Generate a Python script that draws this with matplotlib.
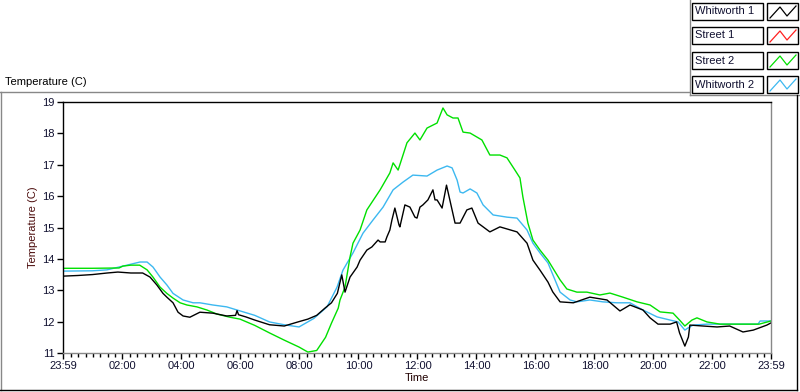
import matplotlib
matplotlib.use("Agg")
import matplotlib.pyplot as plt
from matplotlib.lines import Line2D
from matplotlib.patches import Rectangle

# ---------------- data (hours since 23:59, temperature in C) ----------------
t_w1 = [0, 0.5, 1.0, 1.5, 1.86, 2.3, 2.7, 2.95, 3.18, 3.39, 3.52, 3.73, 3.9, 4.07, 4.3, 4.64,
        5.08, 5.55, 5.85, 5.9, 5.95, 6.2, 6.5, 7.0, 7.5, 8.0, 8.3, 8.6, 8.88, 9.1, 9.3, 9.45,
        9.56, 9.73, 9.97, 10.07, 10.3, 10.47, 10.68, 10.75, 10.92, 10.98, 11.08, 11.15, 11.25,
        11.39, 11.42, 11.59, 11.76, 11.93, 12.0, 12.1, 12.2, 12.37, 12.54, 12.61,
        12.68, 12.85, 13.0, 13.29, 13.46, 13.69, 13.86, 14.07, 14.47, 14.81, 15.39, 15.73,
        15.93, 16.17, 16.44, 16.6, 16.85, 17.3, 17.86, 18.44, 18.88, 19.22, 19.66, 19.9, 20.17,
        20.58, 20.8, 20.9, 21.08, 21.2, 21.25, 21.7, 22.17, 22.6, 23.05, 23.4, 23.86, 24.0]
v_w1 = [13.45, 13.47, 13.5, 13.55, 13.58, 13.55, 13.55, 13.42, 13.17, 12.9, 12.78, 12.6, 12.3,
        12.18, 12.14, 12.3, 12.27, 12.18, 12.2, 12.35, 12.22, 12.15, 12.05, 11.9, 11.86, 12.0,
        12.08, 12.2, 12.43, 12.6, 12.9, 13.49, 12.94, 13.42, 13.74, 13.96, 14.28, 14.38, 14.6,
        14.54, 14.54, 14.7, 14.92, 15.24, 15.62, 15.08, 15.02, 15.72, 15.65, 15.33, 15.3,
        15.65, 15.72, 15.88, 16.2, 15.88, 15.88, 15.62, 16.35, 15.14, 15.14, 15.56,
        15.62, 15.14, 14.86, 15.02, 14.86, 14.5, 13.96, 13.64, 13.26, 12.95, 12.63, 12.6, 12.78,
        12.69, 12.34, 12.53, 12.37, 12.12, 11.92, 11.92, 11.99, 11.64, 11.22, 11.51, 11.89,
        11.86, 11.83, 11.86, 11.67, 11.73, 11.89, 11.96]

t_s1 = []
v_s1 = []

t_s2 = [0, 1.0, 1.9, 2.03, 2.3, 2.6, 2.85, 3.05, 3.29, 3.52, 3.73, 3.97, 4.2, 4.54, 4.88, 5.22,
        5.66, 6.0, 6.5, 7.0, 7.5, 8.0, 8.3, 8.6, 8.9, 9.1, 9.33, 9.39, 9.56, 9.73, 9.83, 10.07,
        10.3, 10.75, 11.08, 11.19, 11.36, 11.66, 11.93, 12.1, 12.34, 12.68, 12.88, 13.02,
        13.22, 13.39, 13.56, 13.8, 14.2, 14.47, 14.81, 15.05, 15.32, 15.49, 15.59, 15.76,
        15.93, 16.17, 16.44, 16.85, 17.08, 17.42, 17.76, 18.2, 18.54, 18.98, 19.46, 19.9,
        20.24, 20.68, 20.9, 21.08, 21.32, 21.49, 21.83, 22.27, 23.0, 23.6, 24.0]
v_s2 = [13.7, 13.7, 13.71, 13.77, 13.8, 13.8, 13.65, 13.42, 13.1, 12.9, 12.75, 12.6, 12.53,
        12.47, 12.37, 12.24, 12.14, 12.08, 11.88, 11.64, 11.41, 11.19, 11.03, 11.08, 11.5,
        11.95, 12.43, 12.69, 13.1, 14.06, 14.5, 14.92, 15.56, 16.2, 16.74, 17.06, 16.83, 17.7,
        18.01, 17.79, 18.17, 18.33, 18.81, 18.59, 18.49, 18.49, 18.04, 18.01, 17.79, 17.31,
        17.31, 17.22, 16.83, 16.58, 15.97, 15.14, 14.6, 14.28, 13.96, 13.33, 13.04, 12.94,
        12.94, 12.85, 12.91, 12.78, 12.63, 12.53, 12.31, 12.27, 12.05, 11.86, 12.05, 12.12,
        11.99, 11.92, 11.92, 11.92, 12.02]

t_w2 = [0, 1.0, 1.49, 2.17, 2.61, 2.85, 3.05, 3.29, 3.52, 3.73, 4.07, 4.41, 4.64, 5.08, 5.55,
        5.9, 6.5, 7.0, 7.5, 8.0, 8.5, 8.95, 9.29, 9.49, 9.83, 10.17, 10.51, 10.85, 11.19,
        11.53, 11.86, 12.34, 12.68, 13.02, 13.19, 13.36, 13.46, 13.56, 13.8, 14.03, 14.24,
        14.58, 15.05, 15.39, 15.73, 15.93, 16.17, 16.44, 16.85, 17.19, 17.42, 17.86, 18.3,
        18.78, 19.22, 19.66, 20.14, 20.58, 20.85, 21.08, 21.19, 21.36, 21.83, 23.56, 23.63, 24.0]
v_w2 = [13.61, 13.62, 13.65, 13.8, 13.9, 13.9, 13.74, 13.42, 13.17, 12.9, 12.69, 12.6, 12.6,
        12.53, 12.47, 12.37, 12.2, 11.99, 11.9, 11.83, 12.1, 12.47, 13.1, 13.64, 14.19, 14.82,
        15.24, 15.65, 16.2, 16.45, 16.67, 16.64, 16.83, 16.96, 16.9, 16.51, 16.13, 16.1, 16.23,
        16.1, 15.72, 15.4, 15.33, 15.3, 14.92, 14.5, 14.19, 13.87, 12.94, 12.69, 12.63, 12.69,
        12.63, 12.6, 12.6, 12.37, 12.15, 12.05, 11.99, 11.73, 11.8, 11.89, 11.92, 11.92, 12.02,
        12.02]

series_names = ["Whitworth 1", "Street 1", "Street 2", "Whitworth 2"]
series_colors = ["#000000", "#ff2020", "#00e000", "#3cb8f0"]

x_tick_pos = [0, 2 + 1/60, 4 + 1/60, 6 + 1/60, 8 + 1/60, 10 + 1/60, 12 + 1/60, 14 + 1/60,
              16 + 1/60, 18 + 1/60, 20 + 1/60, 22 + 1/60, 24]
x_tick_labels = ["23:59", "02:00", "04:00", "06:00", "08:00", "10:00", "12:00", "14:00",
                 "16:00", "18:00", "20:00", "22:00", "23:59"]
y_ticks = [11, 12, 13, 14, 15, 16, 17, 18, 19]

# ---------------- figure ----------------
W, H = 800, 392
plt.rcParams['font.family'] = ['Liberation Sans', 'DejaVu Sans']
fig = plt.figure(figsize=(W / 100, H / 100), dpi=100)
fig.patch.set_facecolor("white")

def fx(px):
    return px / W

def fy(py):
    return 1 - py / H

ax = fig.add_axes([fx(63), fy(353), (771 - 63) / W, (353 - 102) / H])
txtc = "#101030"
ax.plot(t_w2, v_w2, color=series_colors[3], lw=1.0)
ax.plot(t_s2, v_s2, color=series_colors[2], lw=1.0)
ax.plot(t_s1, v_s1, color=series_colors[1], lw=1.0)
ax.plot(t_w1, v_w1, color=series_colors[0], lw=1.0)

ax.set_xlim(0, 24)
ax.set_ylim(11, 19)
ax.set_xticks(x_tick_pos)
ax.set_xticklabels(x_tick_labels)
ax.set_xticks([k / 4 + 1/60 for k in range(1, 96) if k % 8 != 0], minor=True)
ax.set_yticks(y_ticks)
ax.tick_params(axis="both", which="major", direction="out", length=4, width=1,
               labelsize=8, colors="black", labelcolor=txtc, pad=2)
ax.tick_params(axis="x", which="minor", direction="out", length=3, width=1, colors="black")
for side, col in [("left", "black"), ("top", "black"), ("right", "#888888"), ("bottom", "#888888")]:
    ax.spines[side].set_color(col)
    ax.spines[side].set_linewidth(1.0)
ax.set_xlabel("Time", fontsize=8, color="#200000", labelpad=1)
ax.set_ylabel("Temperature (C)", fontsize=8, color="#4a0a0a", labelpad=3)

# chart caption
fig.text(fx(5), fy(82), "Temperature (C)", fontsize=8, color="black", ha="left", va="center")

# outer panel frame
def fline(x0, y0, x1, y1, color, lw=1.0):
    fig.add_artist(Line2D([fx(x0), fx(x1)], [fy(y0), fy(y1)], color=color, lw=lw,
                          transform=fig.transFigure))

fline(0, 92, 690, 92, "#888888")
fline(690, 0, 690, 95, "#888888")
fline(690, 95, 800, 95, "#888888")
fline(1, 92, 1, 390, "#888888")
fline(0, 390, 797, 390, "#000000")
fline(797, 95, 797, 390, "#000000")

# legend
row_tops = [3, 27, 52, 76]
for name, col, top in zip(series_names, series_colors, row_tops):
    fig.add_artist(Rectangle((fx(692), fy(top + 17)), 71 / W, 17 / H, transform=fig.transFigure,
                             facecolor="white", edgecolor="black", lw=1.0))
    fig.text(fx(695), fy(top + 8.5), name, fontsize=8, color=txtc, ha="left", va="center")
    fig.add_artist(Rectangle((fx(767), fy(top + 17)), 31 / W, 17 / H, transform=fig.transFigure,
                             facecolor="white", edgecolor="black", lw=1.0))
    fig.add_artist(Line2D([fx(770), fx(780), fx(787), fx(796)],
                          [fy(top + 15), fy(top + 4), fy(top + 13), fy(top + 3)],
                          color=col, lw=0.9, transform=fig.transFigure))

fig.savefig("out.png", dpi=100, facecolor="white")
